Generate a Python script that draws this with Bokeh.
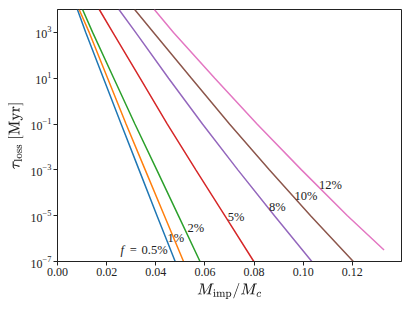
from bokeh.plotting import figure
from bokeh.models import FixedTicker, NumeralTickFormatter, ColumnDataSource
from bokeh.core.properties import value
from bokeh.embed import file_html
from bokeh.resources import INLINE

# ---- data ----
tau_levels = [1e4, 1e3, 1e1, 1e-1, 1e-3, 1e-5, 1e-7]
tau_pink = [1e4, 1e3, 1e1, 1e-1, 1e-3, 1e-5, 3.2e-7]

m_05 = [0.0081, 0.0115, 0.0187, 0.0259, 0.0332, 0.0405, 0.0479]
m_1 = [0.0088, 0.0129, 0.0204, 0.0279, 0.0357, 0.0435, 0.0513]
m_2 = [0.0102, 0.0143, 0.0229, 0.0315, 0.0404, 0.0492, 0.0580]
m_5 = [0.0170, 0.0225, 0.0336, 0.0447, 0.0563, 0.0681, 0.0799]
m_8 = [0.0250, 0.0318, 0.0452, 0.0590, 0.0734, 0.0883, 0.1035]
m_10 = [0.0314, 0.0391, 0.0545, 0.0700, 0.0862, 0.1030, 0.1204]
m_12 = [0.0394, 0.0472, 0.0640, 0.0812, 0.0993, 0.1180, 0.1329]

series_names = ["0.5%", "1%", "2%", "5%", "8%", "10%", "12%"]
colors = ["#1f77b4", "#ff7f0e", "#2ca02c", "#d62728", "#9467bd", "#8c564b", "#e377c2"]

# inline label anchor positions (data coords)
label_text = ["0.5%", "1%", "2%", "5%", "8%", "10%", "12%"]
label_x = [0.0395, 0.0482, 0.0563, 0.0727, 0.0895, 0.1011, 0.1111]
label_y = [10**-6.48, 10**-5.98, 10**-5.52, 10**-5.04, 10**-4.60, 10**-4.15, 10**-3.68]

x_ticks = [0.0, 0.02, 0.04, 0.06, 0.08, 0.10, 0.12]
y_ticks = [1e-7, 1e-5, 1e-3, 1e-1, 1e1, 1e3]

SERIF = "Liberation Serif"

p = figure(
    x_range=(0, 0.14), y_range=(1e-7, 1e4), y_axis_type="log",
    frame_width=344, frame_height=252,
    min_border_left=57, min_border_right=4, min_border_top=9, min_border_bottom=40,
    output_backend="svg", toolbar_location=None,
)
p.background_fill_color = "white"
p.border_fill_color = "white"
p.grid.visible = False
p.outline_line_color = "#222222"
p.outline_line_width = 1

all_x = [m_05, m_1, m_2, m_5, m_8, m_10, m_12]
for xs, c, name in zip(all_x, colors, series_names):
    ys = tau_pink if name == "12%" else tau_levels
    p.line(xs, ys, line_color=c, line_width=1.5)

# labels
src = ColumnDataSource(dict(x=label_x, y=label_y, t=label_text))
p.text(x="x", y="y", text="t", source=src, text_align="center", text_baseline="middle",
       text_font=value(SERIF), text_font_size="12.5px", text_color="#222222")
p.text(x=[0.0271], y=[10**-6.48], text=["f"], text_align="right", text_baseline="middle",
       text_font=value(SERIF), text_font_style="italic", text_font_size="12.5px", text_color="#222222")
p.text(x=[0.0308], y=[10**-6.48], text=["="], text_align="center", text_baseline="middle",
       text_font=value(SERIF), text_font_size="12.5px", text_color="#222222")

# axes
p.xaxis.ticker = FixedTicker(ticks=x_ticks)
p.xaxis.formatter = NumeralTickFormatter(format="0.00")
p.yaxis.ticker = FixedTicker(ticks=y_ticks, minor_ticks=[])
for ax in (p.xaxis, p.yaxis):
    ax.axis_line_color = "#222222"
    ax.major_tick_line_color = "#222222"
    ax.major_tick_out = 4
    ax.major_tick_in = 0
    ax.minor_tick_line_color = None
    ax.major_label_text_font = SERIF
    ax.major_label_text_font_size = "12px"
    ax.major_label_text_color = "#222222"
    ax.major_label_standoff = 2
    ax.axis_label_text_font = SERIF
    ax.axis_label_text_font_style = "normal"
    ax.axis_label_text_font_size = "15px"
    ax.axis_label_text_color = "#222222"
    ax.axis_label_standoff = 4

p.xaxis.axis_label = r"$$M_{\rm imp}/M_c$$"
p.yaxis.axis_label = r"$$\tau_{\rm loss}\ [\rm Myr]$$"

open("out.html", "w").write(file_html(p, INLINE))
